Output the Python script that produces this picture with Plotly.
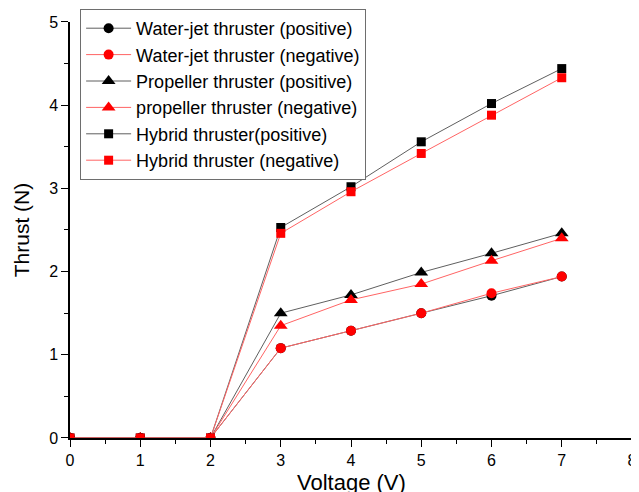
import plotly.graph_objects as go

voltage = [0, 1, 2, 3, 4, 5, 6, 7]
waterjet_pos = [0, 0, 0, 1.08, 1.29, 1.50, 1.71, 1.94]
waterjet_neg = [0, 0, 0, 1.08, 1.29, 1.50, 1.74, 1.94]
prop_pos = [0, 0, 0, 1.50, 1.72, 1.99, 2.22, 2.46]
prop_neg = [0, 0, 0, 1.35, 1.66, 1.85, 2.13, 2.40]
hybrid_pos = [0, 0, 0, 2.53, 3.02, 3.56, 4.02, 4.44]
hybrid_neg = [0, 0, 0, 2.46, 2.96, 3.42, 3.88, 4.33]

names = ["Water-jet thruster (positive)", "Water-jet thruster (negative)",
         "Propeller thruster (positive)", "propeller thruster (negative)",
         "Hybrid thruster(positive)", "Hybrid thruster (negative)"]
x_title = "Voltage (V)"
y_title = "Thrust (N)"

BLACK_LINE = "rgb(95,95,95)"
RED_LINE = "rgb(255,100,100)"

series = [
    (waterjet_pos, "circle", "black", BLACK_LINE, 10),
    (waterjet_neg, "circle", "red", RED_LINE, 10),
    (prop_pos, "triangle-up", "black", BLACK_LINE, 12),
    (prop_neg, "triangle-up", "red", RED_LINE, 12),
    (hybrid_pos, "square", "black", BLACK_LINE, 9),
    (hybrid_neg, "square", "red", RED_LINE, 9),
]

fig = go.Figure()
for name, (vals, sym, mc, lc, ms) in zip(names, series):
    fig.add_trace(go.Scatter(
        x=voltage, y=vals, name=name, mode="lines+markers",
        line=dict(color=lc, width=1),
        marker=dict(symbol=sym, color=mc, size=ms, line=dict(width=0)),
    ))

axis_common = dict(
    showgrid=False, zeroline=False, showline=True, linecolor="black", linewidth=1.5,
    ticks="outside", ticklen=7, tickwidth=1.2, tickcolor="black",
    tickfont=dict(family="Liberation Sans, Arial", size=16, color="black"),
    mirror=False, automargin=False, ticklabeloverflow="allow",
)

# page body has an 8px default margin, so the figure is sized/offset to compensate
fig.update_layout(
    width=631, height=484,
    margin=dict(l=62, r=7, t=1, b=54),
    paper_bgcolor="white", plot_bgcolor="white",
    font=dict(family="Liberation Sans, Arial", color="black"),
    showlegend=True,
    legend=dict(
        x=0.018, y=1.0, xanchor="left", yanchor="top",
        bgcolor="white", bordercolor="rgb(110,110,110)", borderwidth=1,
        font=dict(family="Liberation Sans, Arial", size=18, color="black"),
        itemwidth=45, tracegroupgap=0,
    ),
    xaxis=dict(
        range=[0, 8], dtick=1, tick0=0,
        minor=dict(dtick=0.5, ticklen=4, ticks="outside", tickcolor="black", tickwidth=1.2),
        **axis_common,
    ),
    yaxis=dict(
        range=[0, 5], dtick=1, tick0=0, domain=[0, 0.9697],
        minor=dict(dtick=0.5, ticklen=4, ticks="outside", tickcolor="black", tickwidth=1.2),
        title=dict(text=y_title, font=dict(size=21), standoff=14),
        **axis_common,
    ),
    annotations=[dict(
        text=x_title, xref="paper", yref="paper", x=0.5, y=-0.069,
        xanchor="center", yanchor="top", showarrow=False,
        font=dict(family="Liberation Sans, Arial", size=22, color="black"),
    )],
)

fig.write_html("out.html")
